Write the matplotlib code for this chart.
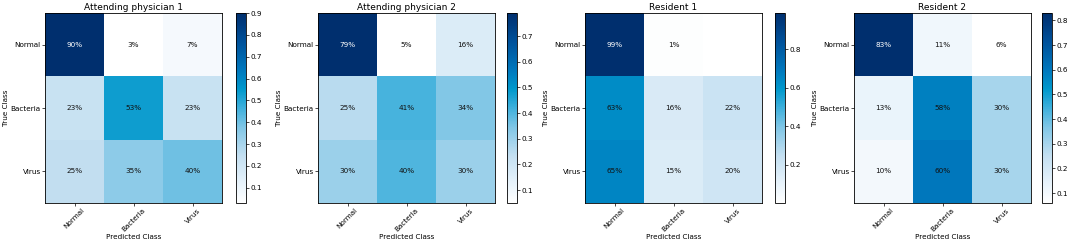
import numpy as np
import matplotlib
matplotlib.use("Agg")
import matplotlib.pyplot as plt
from matplotlib.colors import LinearSegmentedColormap
from matplotlib.ticker import MultipleLocator

classes = ["Normal", "Bacteria", "Virus"]
titles = ["Attending physician 1", "Attending physician 2", "Resident 1", "Resident 2"]

att1 = [[0.90, 0.03, 0.07],
        [0.23, 0.53, 0.23],
        [0.25, 0.35, 0.40]]
att2 = [[0.79, 0.05, 0.16],
        [0.25, 0.41, 0.34],
        [0.30, 0.40, 0.30]]
res1 = [[0.99, 0.01, 0.00],
        [0.63, 0.16, 0.22],
        [0.65, 0.15, 0.20]]
res2 = [[0.83, 0.11, 0.06],
        [0.13, 0.58, 0.30],
        [0.10, 0.60, 0.30]]
matrices = [att1, att2, res1, res2]
cb_steps = [0.1, 0.1, 0.2, 0.1]

## --custom blues (more saturated in the middle than plain "Blues")
cmap = LinearSegmentedColormap.from_list("cm_blues", [
    (0.0, "#ffffff"), (0.1, "#e8f3fb"), (0.25, "#c3dff1"), (0.4, "#7fc6e6"),
    (0.5, "#3fb0dc"), (0.6, "#0098cc"), (0.7, "#0078bd"), (0.85, "#00519a"),
    (1.0, "#002f6e")])

W, H = 1072, 247
fig = plt.figure(figsize=(W / 100, H / 100), dpi=100)

# pixel positions of each heatmap and its colorbar
img_x = [45, 318, 585, 854]
img_w = 177
cb_x = [236, 507, 775, 1042]
top, bot = 13, 203
fs = 5.2

for k, m in enumerate(matrices):
    m = np.array(m)
    ax = fig.add_axes([img_x[k] / W, (H - bot) / H, img_w / W, (bot - top) / H])
    cax = fig.add_axes([cb_x[k] / W, (H - bot) / H, 10 / W, (bot - top) / H])
    im = ax.imshow(m, cmap=cmap, aspect="auto", interpolation="nearest")
    cb = fig.colorbar(im, cax=cax)
    cb.locator = MultipleLocator(cb_steps[k])
    cb.update_ticks()
    ticks = [t for t in cb.get_ticks() if m.min() + 1e-6 < t <= m.max() + 1e-6]
    cb.set_ticks(ticks)
    cb.ax.tick_params(labelsize=fs, length=2, width=0.5, pad=1)
    cb.outline.set_linewidth(0.6)
    for s in ax.spines.values():
        s.set_linewidth(0.6)
    ax.set_title(titles[k], fontsize=6.5, pad=2)
    ax.set_xticks(range(3))
    ax.set_yticks(range(3))
    ax.set_xticklabels(classes, rotation=45, fontsize=fs)
    ax.set_yticklabels(classes, fontsize=fs)
    ax.tick_params(length=2, width=0.5, pad=1)
    ax.set_xlabel("Predicted Class", fontsize=fs, labelpad=1)
    ax.set_ylabel("True Class", fontsize=fs, labelpad=1)
    for i in range(3):
        for j in range(3):
            v = m[i, j]
            if v == 0:
                continue
            ax.text(j, i, "{:.0%}".format(v), ha="center", va="center", fontsize=fs,
                    color="white" if v > 0.7 else "#111111")

plt.savefig("out.png", dpi=100)
